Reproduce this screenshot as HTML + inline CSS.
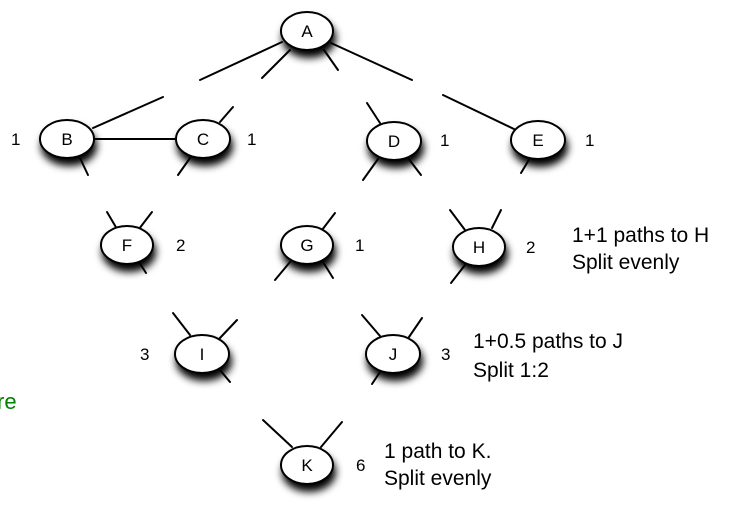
<!DOCTYPE html>
<html><head><meta charset="utf-8"><style>
html,body{margin:0;padding:0;background:#fff;width:733px;height:519px;overflow:hidden}
svg{display:block}
text{font-family:"Liberation Sans",Arial,sans-serif}
</style></head><body>
<svg width="733" height="519" viewBox="0 0 733 519" xmlns="http://www.w3.org/2000/svg">
<defs>
<filter id="sh" x="-50%" y="-50%" width="200%" height="220%">
<feGaussianBlur in="SourceAlpha" stdDeviation="4"/>
<feOffset dx="2" dy="7" result="b"/>
<feComponentTransfer><feFuncA type="linear" slope="1"/></feComponentTransfer>
<feMerge><feMergeNode/><feMergeNode in="SourceGraphic"/></feMerge>
</filter>
</defs>
<g stroke="#000" stroke-width="2" fill="none" stroke-linecap="round">
<line x1="282" y1="42" x2="200" y2="80"/>
<line x1="163" y1="97" x2="93" y2="128"/>
<line x1="290" y1="50" x2="262" y2="78"/>
<line x1="324" y1="50" x2="338" y2="70"/>
<line x1="331" y1="43" x2="412" y2="80"/>
<line x1="443" y1="95" x2="516" y2="130"/>
<line x1="95" y1="139" x2="177" y2="139"/>
<line x1="80" y1="158" x2="88" y2="175"/>
<line x1="220" y1="122" x2="233" y2="107"/>
<line x1="190" y1="158" x2="178" y2="175"/>
<line x1="367" y1="103" x2="380" y2="123"/>
<line x1="363" y1="180" x2="378" y2="159"/>
<line x1="408" y1="158" x2="421" y2="175"/>
<line x1="521" y1="173" x2="530" y2="158"/>
<line x1="107" y1="212" x2="117" y2="229"/>
<line x1="152" y1="212" x2="139" y2="229"/>
<line x1="139" y1="262" x2="146" y2="273"/>
<line x1="335" y1="213" x2="322" y2="230"/>
<line x1="275" y1="280" x2="290" y2="262"/>
<line x1="323" y1="262" x2="333" y2="278"/>
<line x1="450" y1="210" x2="465" y2="230"/>
<line x1="501" y1="210" x2="492" y2="228"/>
<line x1="451" y1="283" x2="465" y2="265"/>
<line x1="173" y1="313" x2="190" y2="335"/>
<line x1="237" y1="320" x2="219" y2="339"/>
<line x1="220" y1="370" x2="230" y2="382"/>
<line x1="362" y1="315" x2="380" y2="336"/>
<line x1="422" y1="318" x2="409" y2="337"/>
<line x1="372" y1="384" x2="380" y2="372"/>
<line x1="263" y1="420" x2="292" y2="447"/>
<line x1="342" y1="422" x2="321" y2="447"/>
</g>
<g fill="#fff" stroke="#000" stroke-width="2" filter="url(#sh)">
<ellipse cx="307" cy="31" rx="26" ry="19"/>
<ellipse cx="67" cy="139" rx="27" ry="19"/>
<ellipse cx="203" cy="139" rx="27" ry="19"/>
<ellipse cx="394" cy="141" rx="27" ry="19"/>
<ellipse cx="538" cy="140" rx="27" ry="19"/>
<ellipse cx="127" cy="245" rx="26" ry="19"/>
<ellipse cx="307" cy="245" rx="26" ry="19"/>
<ellipse cx="479" cy="247" rx="26" ry="19"/>
<ellipse cx="202" cy="354" rx="27" ry="19"/>
<ellipse cx="393" cy="354" rx="27" ry="19"/>
<ellipse cx="307" cy="465" rx="26" ry="19"/>
</g>
<g font-size="17" text-anchor="middle" fill="#000">
<text x="307" y="37">A</text>
<text x="67" y="145">B</text>
<text x="203" y="145">C</text>
<text x="394" y="147">D</text>
<text x="538" y="146">E</text>
<text x="127" y="251">F</text>
<text x="307" y="251">G</text>
<text x="479" y="253">H</text>
<text x="202" y="360">I</text>
<text x="393" y="360">J</text>
<text x="307" y="471">K</text>
</g>
<g font-size="17" fill="#000">
<text x="11" y="145">1</text>
<text x="247" y="145">1</text>
<text x="440" y="146">1</text>
<text x="585" y="146">1</text>
<text x="176" y="251">2</text>
<text x="355" y="251">1</text>
<text x="526" y="253">2</text>
<text x="140" y="360">3</text>
<text x="441" y="360">3</text>
<text x="356" y="471">6</text>
</g>
<g font-size="21" fill="#000">
<text x="572" y="242">1+1 paths to H</text>
<text x="572" y="269">Split evenly</text>
<text x="473" y="348">1+0.5 paths to J</text>
<text x="473" y="377">Split 1:2</text>
<text x="384" y="458">1 path to K.</text>
<text x="384" y="485">Split evenly</text>
</g>
<text x="-3" y="409" font-size="22" fill="#008000">re</text>
</svg>
</body></html>
